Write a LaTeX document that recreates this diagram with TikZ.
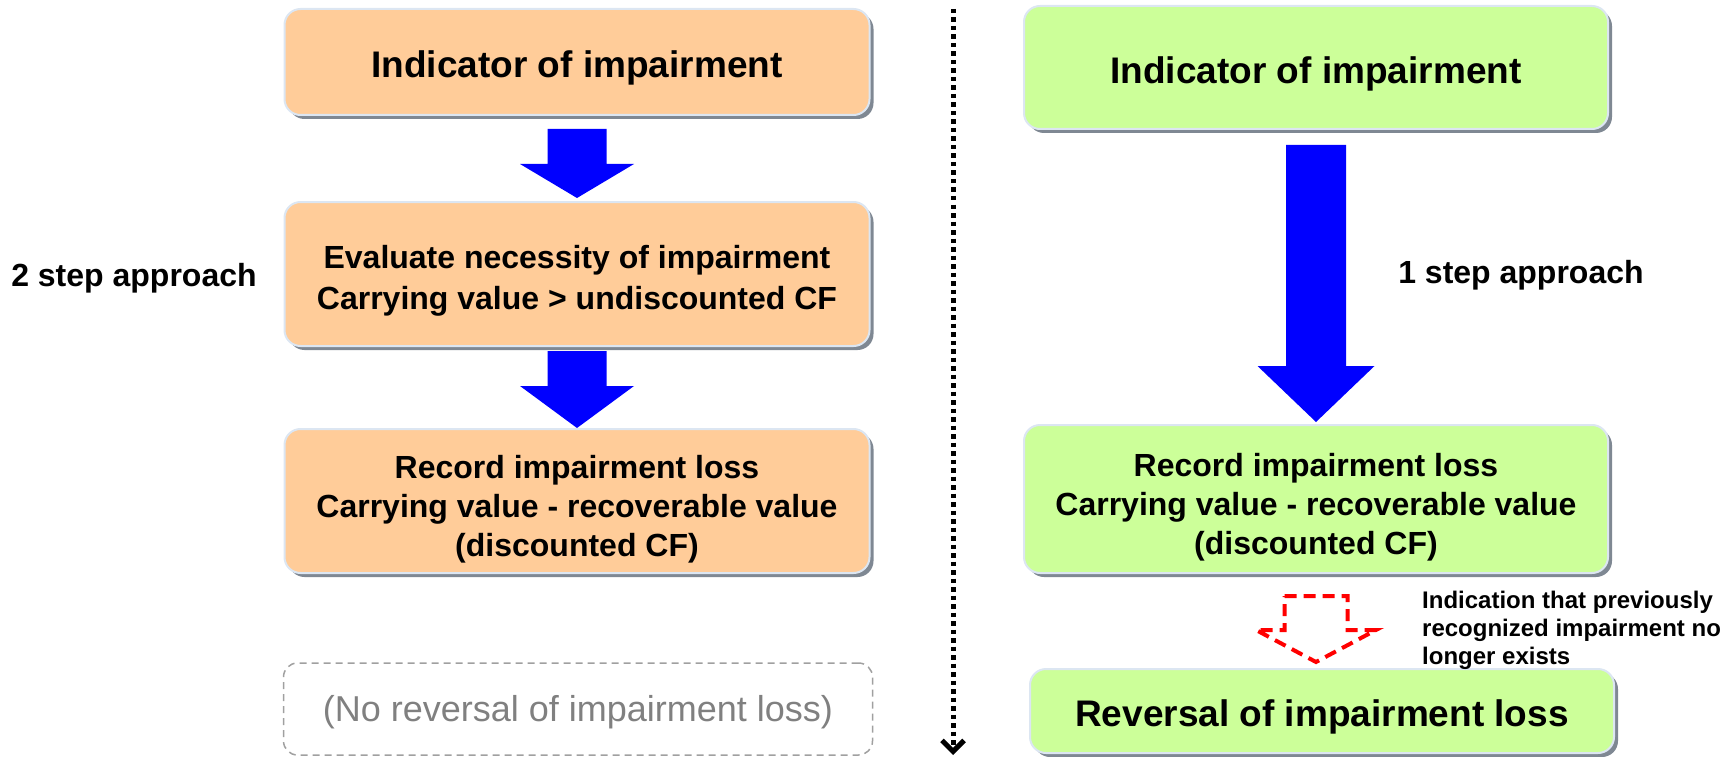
\documentclass[tikz,border=0pt]{standalone}
\usepackage{fontspec}
\setmainfont{Liberation Sans}
\usetikzlibrary{shadows,arrows.meta,calc}
\definecolor{peach}{HTML}{FFCC99}
\definecolor{lime}{HTML}{CCFF99}
\definecolor{shade}{HTML}{7F8893}
\definecolor{rim}{HTML}{DCE6F2}
\definecolor{pureblue}{HTML}{0000FF}
\definecolor{softgray}{HTML}{808080}
% #1 from, #2 to, #3 style, #4 top gap, #5 tip gap, #6 head length, #7 shaft half width, #8 head half width
\newcommand\blockarrow[8]{%
  \path[#3] let \p1=(#1.south), \p2=(#2.north) in
    (\x1-#7pt,\y1-#4pt) -- (\x1+#7pt,\y1-#4pt) -- (\x1+#7pt,\y2+#5pt+#6pt)
    -- (\x1+#8pt,\y2+#5pt+#6pt) -- (\x1,\y2+#5pt) -- (\x1-#8pt,\y2+#5pt+#6pt)
    -- (\x1-#7pt,\y2+#5pt+#6pt) -- cycle;}
\begin{document}
\begin{tikzpicture}[x=1pt,y=-1pt,
  box/.style={rounded corners=16pt, draw=rim, line width=2pt, inner sep=0pt,
    drop shadow={shadow xshift=4pt, shadow yshift=-4pt, fill=shade, opacity=1}},
  bigtext/.style={font=\fontsize{37}{44}\selectfont\bfseries, align=center, inner sep=0pt},
  midtext/.style={font=\fontsize{32}{41}\selectfont\bfseries, align=center, inner sep=0pt},
  midtextb/.style={font=\fontsize{32}{39}\selectfont\bfseries, align=center, inner sep=0pt},
  labeltext/.style={font=\fontsize{32}{40}\selectfont\bfseries, inner sep=0pt},
  notetext/.style={font=\fontsize{24}{28}\selectfont\bfseries, inner sep=0pt, align=left},
  solidarrow/.style={fill=pureblue},
  dasharrow/.style={draw=red, line width=4pt, dash pattern=on 12pt off 7pt}]
\useasboundingbox (0,0) rectangle (1733,757);

% left column
\node[box, fill=peach, minimum width=585pt, minimum height=106pt] (L1) at (577,62) {};
\node[bigtext] (L1t) at ($(L1.center)+(0,6)$) {Indicator of impairment};
\node[box, fill=peach, minimum width=585pt, minimum height=144pt] (L2) at (577,274) {};
\node[midtext] (L2t) at ($(L2.center)+(0,7)$) {Evaluate necessity of impairment\\Carrying value > undiscounted CF};
\node[box, fill=peach, minimum width=585pt, minimum height=144pt] (L3) at (577,501) {};
\node[midtextb] (L3t) at ($(L3.center)+(0,8)$) {Record impairment loss\\Carrying value - recoverable value\\(discounted CF)};
\node[draw=softgray!75, dash pattern=on 7pt off 5pt, line width=1.5pt, rounded corners=14pt,
  minimum width=589pt, minimum height=92pt] (L4) at (578,709) {};
\node[text=softgray, font=\fontsize{36}{42}\selectfont, inner sep=0pt] (L4t) at ($(L4.center)+(0,3)$) {(No reversal of impairment loss)};
\node[labeltext] (two) at (134,278) {2 step approach};

\blockarrow{L1}{L2}{solidarrow}{13}{3}{34}{29.5}{57}
\blockarrow{L2}{L3}{solidarrow}{4}{0}{42}{29.5}{57}

% divider
\coordinate (dtop) at (953,9);
\coordinate (dbot) at (953,755);
\draw[line width=5pt, dash pattern=on 4.5pt off 4pt, -{Straight Barb[length=11pt,width=22pt]}] (dtop) -- (dbot);

% right column
\node[box, fill=lime, minimum width=584pt, minimum height=123pt] (R1) at (1316,67.5) {};
\node[bigtext] (R1t) at ($(R1.center)+(0,6)$) {Indicator of impairment};
\node[box, fill=lime, minimum width=584pt, minimum height=148pt] (R2) at (1316,499) {};
\node[midtextb] (R2t) at ($(R2.center)+(0,8)$) {Record impairment loss\\Carrying value - recoverable value\\(discounted CF)};
\node[box, fill=lime, minimum width=584pt, minimum height=84pt] (R3) at (1322,711) {};
\node[bigtext] (R3t) at ($(R3.center)+(0,6)$) {Reversal of impairment loss};
\node[labeltext] (one) at (1521,275) {1 step approach};
\node[notetext, anchor=north west] (note) at (1422,591) {Indication that previously\\recognized impairment no\\longer exists};

\blockarrow{R1}{R2}{solidarrow}{15}{2}{56}{30}{58.5}
\blockarrow{R2}{R3}{dasharrow}{22}{6}{32}{31.5}{60}
\end{tikzpicture}
\end{document}
